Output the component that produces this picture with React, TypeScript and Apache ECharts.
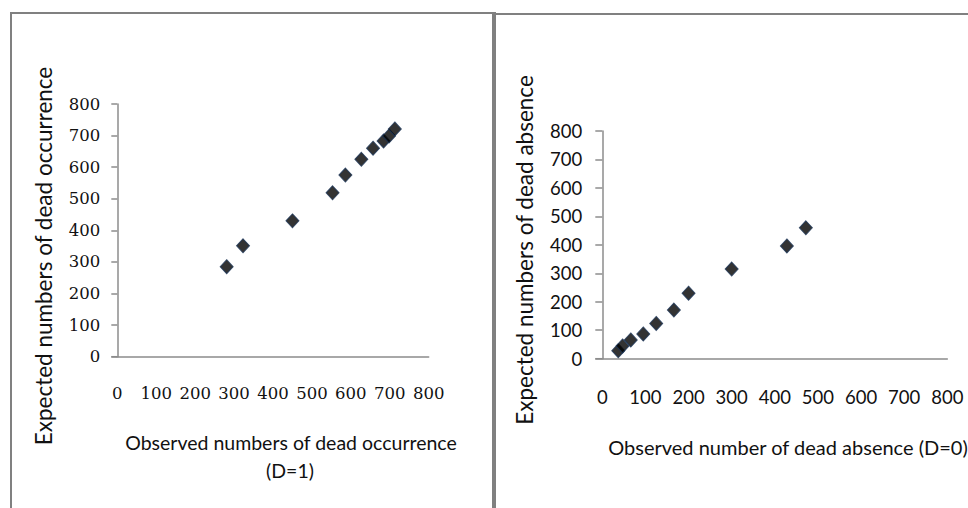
import React, { useEffect, useRef } from "react";
import * as echarts from "echarts";

// Left chart: dead occurrence (D=1)
const occObserved = [281, 323, 450, 553, 586, 627, 657, 684, 698, 713];
const occExpected = [285, 351, 430, 519, 575, 625, 660, 683, 699, 721];

// Right chart: dead absence (D=0)
const absObserved = [37, 47, 66, 95, 125, 166, 200, 300, 428, 472];
const absExpected = [28, 45, 66, 87, 124, 171, 230, 315, 396, 460];

const axisTicks = [0, 100, 200, 300, 400, 500, 600, 700, 800];

const leftYTitle = "Expected numbers of dead occurrence";
const leftXTitle1 = "Observed numbers of dead occurrence";
const leftXTitle2 = "(D=1)";
const rightYTitle = "Expected numbers of dead absence";
const rightXTitle = "Observed number of dead absence (D=0)";

const SERIF = "DejaVu Serif";
const SANS = "Lato";
const AXIS_COLOR = "#8c8c8c";
const BORDER = "#808080";

export default function App() {
  const ref = useRef<HTMLDivElement>(null);

  useEffect(() => {
    if (!ref.current) return;
    const chart = echarts.init(ref.current, undefined, { renderer: "svg" });
    const tickMax = axisTicks[axisTicks.length - 1];
    const tickStep = axisTicks[1] - axisTicks[0];

    const makeX = (gridIndex: number, font: string, size: number, margin: number) => ({
      type: "value",
      gridIndex,
      min: axisTicks[0],
      max: tickMax,
      interval: tickStep,
      axisLine: { show: true, onZero: false, lineStyle: { color: AXIS_COLOR, width: 1.5 } },
      axisTick: { show: false },
      splitLine: { show: false },
      axisLabel: { color: "#111", fontFamily: font, fontSize: size, margin },
    });
    const makeY = (gridIndex: number, font: string, size: number, margin: number, tickLen: number) => ({
      type: "value",
      gridIndex,
      min: axisTicks[0],
      max: tickMax,
      interval: tickStep,
      axisLine: { show: true, onZero: false, lineStyle: { color: AXIS_COLOR, width: 1.5 } },
      axisTick: { show: true, length: tickLen, lineStyle: { color: AXIS_COLOR, width: 1.5 } },
      splitLine: { show: false },
      axisLabel: { color: "#111", fontFamily: font, fontSize: size, margin },
    });

    const toPairs = (xs: number[], ys: number[]) => xs.map((x, i) => [x, ys[i]]);

    const markerStyle = { color: "#000", borderColor: "#1c3556", borderWidth: 1 };

    chart.setOption({
      animation: false,
      backgroundColor: "#fff",
      grid: [
        { left: 117.3, top: 104, width: 311.4, height: 252.7 },
        { left: 602.3, top: 131, width: 345, height: 227.7 },
      ],
      xAxis: [makeX(0, SERIF, 16.5, 28), makeX(1, SANS, 18.5, 29)],
      yAxis: [makeY(0, SERIF, 16.5, 17, 6), makeY(1, SANS, 18.5, 20, 7)],
      series: [
        {
          type: "scatter",
          xAxisIndex: 0,
          yAxisIndex: 0,
          symbol: "diamond",
          symbolSize: [13, 14],
          itemStyle: markerStyle,
          data: toPairs(occObserved, occExpected),
        },
        {
          type: "scatter",
          xAxisIndex: 1,
          yAxisIndex: 1,
          symbol: "diamond",
          symbolSize: [13, 14],
          itemStyle: markerStyle,
          data: toPairs(absObserved, absExpected),
        },
      ],
      graphic: [
        // panel borders
        { type: "line", shape: { x1: 11, y1: 12, x2: 11, y2: 508 }, style: { stroke: BORDER, lineWidth: 2 } },
        { type: "line", shape: { x1: 10, y1: 13, x2: 493, y2: 13 }, style: { stroke: BORDER, lineWidth: 2 } },
        { type: "rect", shape: { x: 492, y: 12, width: 4, height: 496 }, style: { fill: BORDER } },
        { type: "line", shape: { x1: 495, y1: 14, x2: 968, y2: 14 }, style: { stroke: BORDER, lineWidth: 2 } },
        // x-axis line extensions under the y ticks
        { type: "line", shape: { x1: 111.3, y1: 356.7, x2: 117.3, y2: 356.7 }, style: { stroke: AXIS_COLOR, lineWidth: 1.5 } },
        { type: "line", shape: { x1: 595.3, y1: 358.7, x2: 602.3, y2: 358.7 }, style: { stroke: AXIS_COLOR, lineWidth: 1.5 } },
        // titles
        {
          type: "text",
          x: 43,
          y: 256,
          rotation: Math.PI / 2,
          style: { text: leftYTitle, fontFamily: SANS, fontSize: 22.5, fill: "#111", textAlign: "center", textVerticalAlign: "middle" },
        },
        {
          type: "text",
          x: 291,
          y: 442,
          style: { text: leftXTitle1, fontFamily: SANS, fontSize: 19.5, fill: "#111", textAlign: "center", textVerticalAlign: "middle" },
        },
        {
          type: "text",
          x: 290,
          y: 470,
          style: { text: leftXTitle2, fontFamily: SANS, fontSize: 19.5, fill: "#111", textAlign: "center", textVerticalAlign: "middle" },
        },
        {
          type: "text",
          x: 524.3,
          y: 250,
          rotation: Math.PI / 2,
          style: { text: rightYTitle, fontFamily: SANS, fontSize: 22.5, fill: "#111", textAlign: "center", textVerticalAlign: "middle" },
        },
        {
          type: "text",
          x: 788,
          y: 446.7,
          style: { text: rightXTitle, fontFamily: SANS, fontSize: 20, fill: "#111", textAlign: "center", textVerticalAlign: "middle" },
        },
      ],
    });

    return () => chart.dispose();
  }, []);

  return (
    <div
      ref={ref}
      style={{ position: "fixed", left: 0, top: 0, width: 968, height: 508, background: "#fff" }}
    />
  );
}
